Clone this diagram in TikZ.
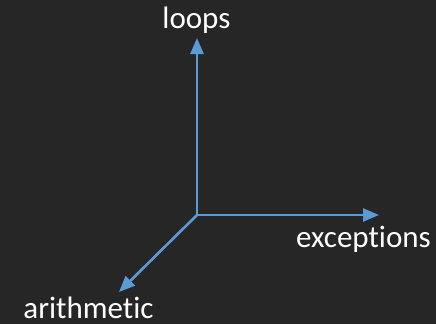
\documentclass[tikz,border=0pt]{standalone}
\usepackage{fontspec}
\setmainfont{Carlito}[Ligatures=NoCommon]
\usetikzlibrary{arrows.meta}
\definecolor{bgdark}{HTML}{262626}
\definecolor{axisblue}{HTML}{5B9BD5}
\begin{document}
\begin{tikzpicture}[x=1pt,y=-1pt,
  axis/.style={draw=axisblue,line width=2.6pt,-{Triangle[length=16pt,width=13pt]}},
  lbl/.style={text=white,font=\fontsize{31}{36}\selectfont,anchor=base,inner sep=0pt}]
  \fill[bgdark] (0,0) rectangle (436,324);
  \useasboundingbox (0,0) rectangle (436,324);
  % axes from a common origin
  \coordinate (o) at (197,215);
  \coordinate (up) at (197,38);
  \coordinate (right) at (379,215);
  \coordinate (diag) at (119,292);
  \draw[axis] (o) -- (up);
  \draw[axis] (o) -- (right);
  \draw[axis] (o) -- (diag);
  % axis labels
  \node[lbl] (loops) at (196.5,28) {loops};
  \node[lbl] (exc) at (363.5,247) {exceptions};
  \node[lbl,text depth=0pt] (arith) at (88.5,318) {arithmetic};
\end{tikzpicture}
\end{document}
